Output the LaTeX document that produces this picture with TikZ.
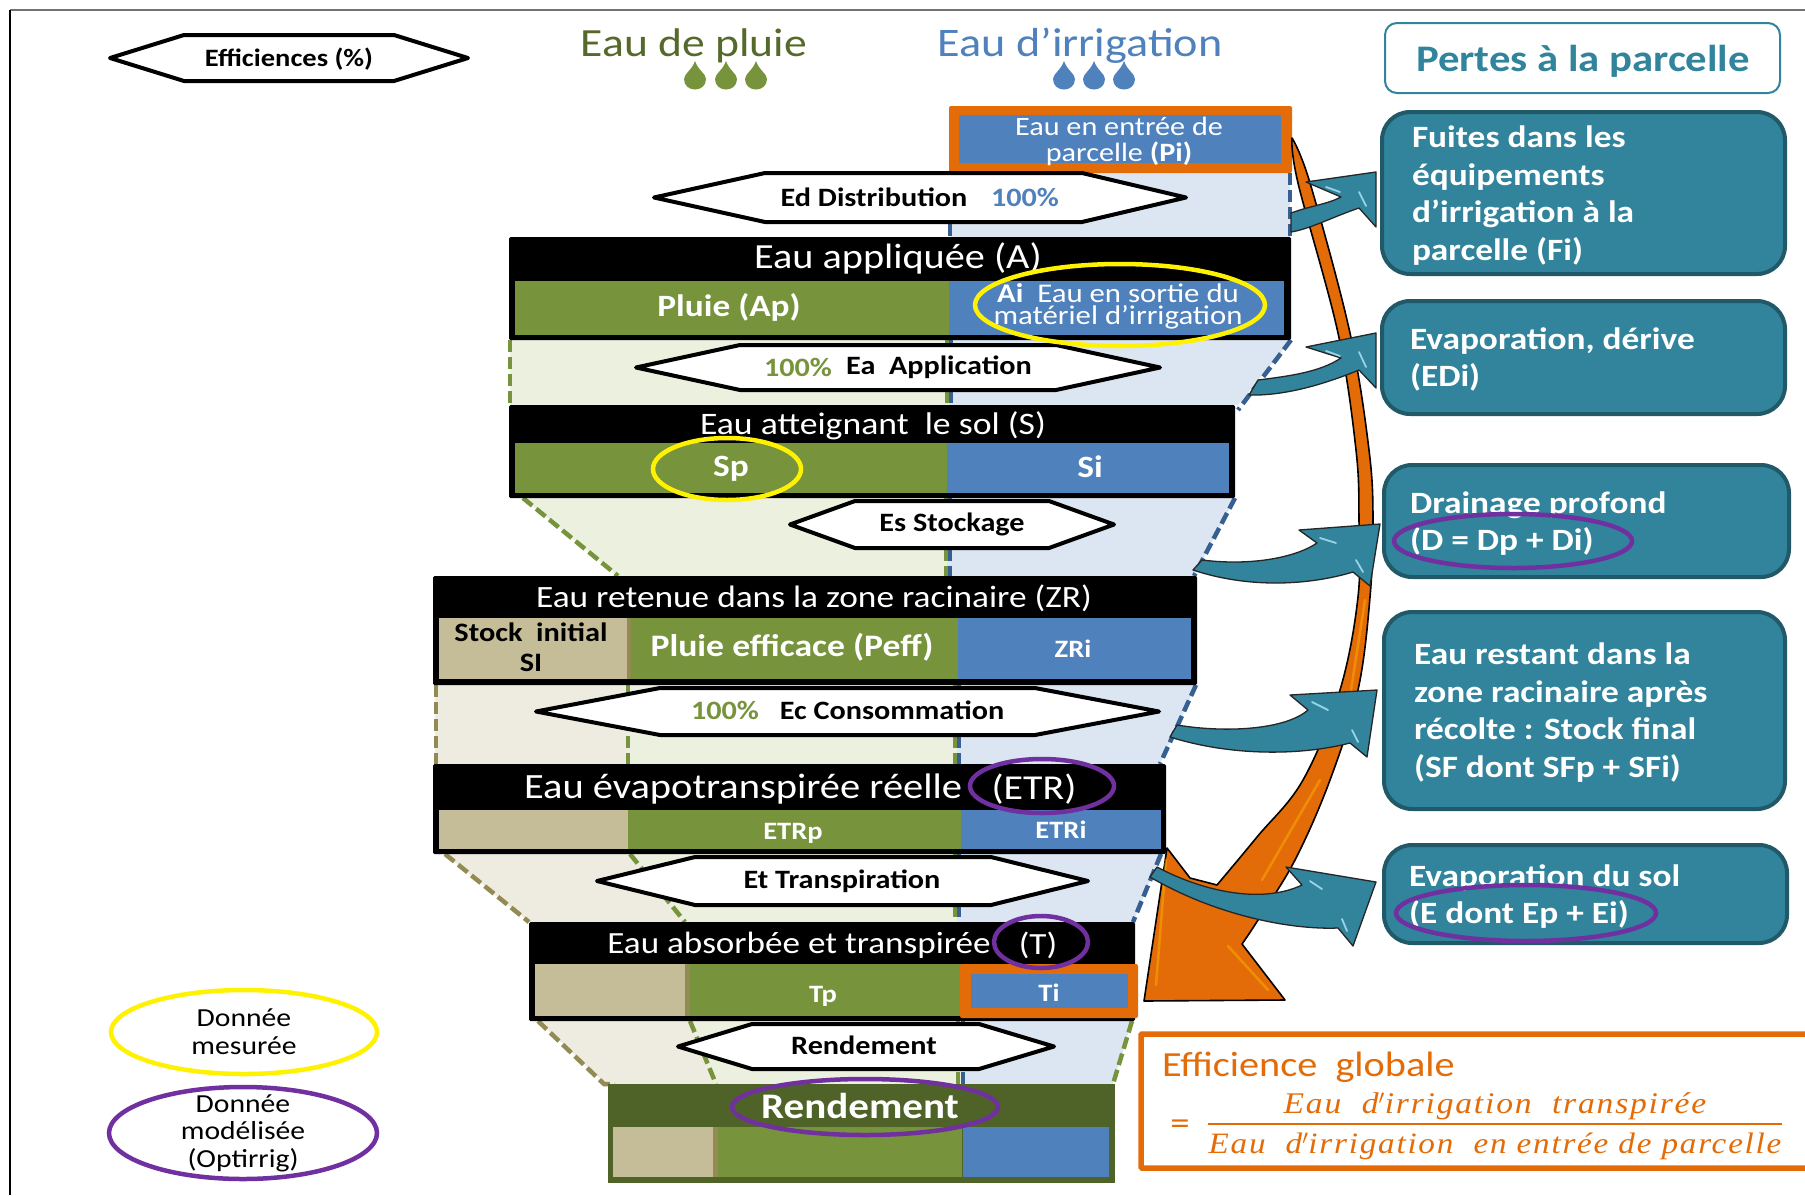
\documentclass[tikz,border=0pt]{standalone}
\usepackage{fontspec}
\setmainfont[FakeStretch=1.14]{Carlito}
\newfontfamily\mathlike[FakeStretch=1.12,LetterSpace=6]{Liberation Serif}
\usetikzlibrary{shapes.geometric}
\definecolor{ored}{HTML}{E36C09}
\definecolor{teal1}{HTML}{31849B}
\definecolor{teal2}{HTML}{215968}
\definecolor{bleu}{HTML}{4F81BD}
\definecolor{bleud}{HTML}{376092}
\definecolor{vert}{HTML}{77933C}
\definecolor{vertd}{HTML}{4F6228}
\definecolor{beige}{HTML}{C4BD97}
\definecolor{beiged}{HTML}{948A54}
\definecolor{lbleu}{HTML}{DCE6F2}
\definecolor{lvert}{HTML}{EBF1DE}
\definecolor{lbeige}{HTML}{EEECE1}
\definecolor{violet1}{HTML}{7030A0}
\newcommand{\fs}[1]{\fontsize{#1}{#1}\selectfont}
\newcommand{\hexa}[7]{\draw[hexline] (#2,{(#6+#7)/2}) -- (#3,#6) -- (#4,#6) -- (#5,{(#6+#7)/2}) -- (#4,#7) -- (#3,#7) -- cycle;}
\newcommand{\goutte}[3]{\fill[#3] (#1,61) .. controls (#1+3,70) and (#1+11,74) .. (#1+11,79) .. controls (#1+11,93) and (#1-11,93) .. (#1-11,79) .. controls (#1-11,74) and (#1-3,70) .. (#1,61) -- cycle;}
\tikzset{
  hexline/.style={draw=black,fill=white,line width=4pt,line join=round},
  txt/.style={inner sep=0pt,outer sep=0pt,text=white,align=center,yshift=-1.5pt},
  dark/.style={inner sep=0pt,outer sep=0pt,text=black,align=center,yshift=-1.5pt},
  loss/.style={inner sep=0pt,outer sep=0pt,text=white,align=left,anchor=west,yshift=-1.5pt,font=\bfseries\fontsize{31}{37.6}\selectfont},
  lossbox/.style={draw=teal2,fill=teal1,line width=4pt,rounded corners=28pt},
  yel/.style={draw=yellow,line width=4.5pt},
  vio/.style={draw=violet1,line width=4.5pt},
  dgreen/.style={draw=vert,line width=4.5pt,dash pattern=on 12pt off 5pt},
  dblue/.style={draw=bleud,line width=4.5pt,dash pattern=on 12pt off 5pt},
  dbeige/.style={draw=beiged,line width=4.5pt,dash pattern=on 12pt off 5pt},
  tealarrow/.style={draw=black!85,fill=teal1,line width=1.3pt,line join=round},
  glint/.style={draw=cyan!30,line width=1.8pt,line cap=round,opacity=.8},
  oglint/.style={draw=orange!55!yellow,line width=2.5pt,line cap=round,opacity=.45},
}
\begin{document}
\begin{tikzpicture}[x=1pt,y=-1pt]
\useasboundingbox (0,0) rectangle (1805,1195);
\fill[white] (0,0) rectangle (1805,1195);
% frame
\draw[draw=black!55,line width=1.6pt] (10,10) -- (1805,10);
\draw[draw=black,line width=1.4pt] (10,10) -- (10,1195);

% titles and drops
\node[dark,text=vertd!85!vert,font=\fs{40}] (tpluie) at (694,44) {Eau de pluie};
\node[dark,text=bleu,font=\fs{40.5}] (tirr) at (1080,44) {Eau d’irrigation};
\goutte{695}{}{vert}\goutte{726}{}{vert}\goutte{756}{}{vert}
\goutte{1064}{}{bleu}\goutte{1094}{}{bleu}\goutte{1124}{}{bleu}

% efficiences legend
\hexa{}{110}{184}{394}{468}{35}{81}
\node[dark,font=\bfseries\fs{25}] (teff) at (289,58) {Efficiences (\%)};

% pertes panel
\draw[draw=teal1,fill=white,line width=2pt,rounded corners=12pt] (1385,23) rectangle (1780,93);
\node[dark,text=teal1,font=\bfseries\fs{37.5}] (tpertes) at (1583,60) {Pertes à la parcelle};
\draw[lossbox] (1382,112) rectangle (1785,274);
\node[loss] (l1) at (1412,194) {Fuites dans les\\équipements\\d’irrigation à la\\parcelle (Fi)};
\draw[lossbox] (1382,301) rectangle (1785,414);
\node[loss] (l2) at (1410,358) {Evaporation, dérive\\(EDi)};
\draw[lossbox] (1384,465) rectangle (1789,577);
\node[loss] (l3) at (1410,522) {Drainage profond\\(D = Dp + Di)};
\draw[lossbox] (1384,612) rectangle (1785,809);
\node[loss] (l4) at (1414,711) {Eau restant dans la\\zone racinaire après\\récolte : Stock final\\(SF dont SFp + SFi)};
\draw[lossbox] (1384,845) rectangle (1787,943);
\node[loss] (l5) at (1409,895) {Evaporation du sol\\(E dont Ep + Ei)};
\draw[vio] (1513,541) ellipse [x radius=119,y radius=27];
\draw[vio] (1526,913) ellipse [x radius=130,y radius=28];

% funnel fills
\fill[lbleu] (950,173) rectangle (1290,237);
\fill[lvert] (510,340) rectangle (949,405);
\fill[lbleu] (949,340) -- (1291,340) -- (1238,405) -- (949,405) -- cycle;
\fill[lvert] (523,498) -- (947,498) -- (947,576) -- (618,576) -- cycle;
\fill[lbleu] (947,498) -- (1235,498) -- (1194,576) -- (947,576) -- cycle;
\fill[lbeige] (435,685) rectangle (628,764);
\fill[lvert] (628,685) rectangle (957,764);
\fill[lbleu] (957,685) -- (1196,685) -- (1160,764) -- (957,764) -- cycle;
\fill[lbeige] (445,854) -- (630,854) -- (685,922) -- (529,922) -- cycle;
\fill[lvert] (630,854) -- (957,854) -- (957,922) -- (685,922) -- cycle;
\fill[lbleu] (957,854) -- (1161,854) -- (1133,922) -- (957,922) -- cycle;
\fill[lbeige] (538,1021) -- (690,1021) -- (716,1084) -- (606,1084) -- cycle;
\fill[lvert] (690,1021) -- (961,1021) -- (961,1084) -- (716,1084) -- cycle;
\fill[lbleu] (961,1021) -- (1132,1021) -- (1113,1084) -- (961,1084) -- cycle;

% funnel dashes
\draw[dblue] (950,173) -- (950,237);
\draw[dblue] (1290,173) -- (1290,237);
\draw[dgreen] (510,340) -- (510,405);
\draw[dgreen] (947,340) -- (947,405);
\draw[dblue] (951,340) -- (951,405);
\draw[dblue] (1291,340) -- (1238,410);
\draw[dgreen] (523,498) -- (618,576);
\draw[dgreen] (946,498) -- (946,576);
\draw[dblue] (950,498) -- (950,576);
\draw[dblue] (1235,498) -- (1194,576);
\draw[dbeige] (436,685) -- (436,764);
\draw[dgreen] (628,685) -- (628,764);
\draw[dgreen] (955,685) -- (955,764);
\draw[dblue] (959,685) -- (959,764);
\draw[dblue] (1196,685) -- (1160,764);
\draw[dbeige] (445,854) -- (529,922);
\draw[dgreen] (630,854) -- (685,922);
\draw[dgreen] (955,854) -- (955,922);
\draw[dblue] (959,854) -- (959,922);
\draw[dblue] (1161,854) -- (1133,922);
\draw[dbeige] (538,1021) -- (604,1084) -- (615,1084);
\draw[dgreen] (690,1021) -- (716,1084);
\draw[dgreen] (958,1021) -- (958,1084);
\draw[dblue] (963,1021) -- (963,1084);
\draw[dgreen] (1132,1021) -- (1113,1084);

% Pi box
\fill[ored,rounded corners=2pt] (949,106) rectangle (1292,173);
\fill[bleu] (959,115) rectangle (1281,163);
\node[txt,font=\fontsize{26.5}{26.5}\selectfont] (tpi) at (1119,140) {Eau en entrée de\\[0pt]parcelle \textbf{(Pi)}};

% hexagons
\hexa{}{654}{765}{1082}{1186}{173}{222}
\node[dark,font=\bfseries\fs{26.5}] (ted) at (874,195.5) {Ed Distribution};
\node[dark,text=bleu,font=\bfseries\fs{26.5}] (ted2) at (1025,195.5) {100\%};
\hexa{}{636}{740}{1056}{1160}{345}{390}
\node[dark,text=vert,font=\bfseries\fs{26.5}] (tea1) at (798,366) {100\%};
\node[dark,font=\bfseries\fs{26.5}] (tea2) at (939,366) {Ea\ \ Application};
\hexa{}{790}{855}{1049}{1114}{501}{548}
\node[dark,font=\bfseries\fs{26.5}] (tes) at (952,523) {Es Stockage};
\hexa{}{536}{660}{1035}{1159}{688}{735}
\node[dark,text=vert,font=\bfseries\fs{26.5}] (tec1) at (725,709) {100\%};
\node[dark,font=\bfseries\fs{26.5}] (tec2) at (892,709) {Ec Consommation};
\hexa{}{597}{695}{991}{1088}{857}{905}
\node[dark,font=\bfseries\fs{26.5}] (tet) at (842,880) {Et Transpiration};
\hexa{}{678}{752}{979}{1054}{1024}{1069}
\node[dark,font=\bfseries\fs{26.5}] (trd) at (864,1043.5) {Rendement};

% bar A
\fill[black,rounded corners=1.5pt] (509,237) rectangle (1291,340);
\fill[vert] (515,281) rectangle (949,335);
\fill[bleu] (949,281) rectangle (1284,335);
\node[txt,font=\fs{35.3}] (ta) at (898,257) {Eau appliquée (A)};
\node[txt,font=\bfseries\fs{31}] (tap) at (729,306) {Pluie (Ap)};
\node[txt,font=\fontsize{27}{22}\selectfont] (tai) at (1118,305) {\textbf{Ai}\ \ Eau en sortie du\\matériel d’irrigation};
\draw[yel] (1120,305) ellipse [x radius=145,y radius=41];

% bar S
\fill[black,rounded corners=1.5pt] (509,405) rectangle (1235,498);
\fill[vert] (515,443) rectangle (947,493);
\fill[bleu] (947,443) rectangle (1229,493);
\node[txt,font=\fs{31.3}] (ts) at (873,424) {Eau atteignant\ \ le sol (S)};
\node[txt,font=\bfseries\fs{31}] (tsp) at (731,467) {Sp};
\node[txt,font=\bfseries\fs{31}] (tsi) at (1090,465) {Si};
\draw[yel] (727,469) ellipse [x radius=74,y radius=31];

% bar ZR
\fill[black,rounded corners=1.5pt] (433,576) rectangle (1197,685);
\fill[beige] (439,618) rectangle (627,679);
\fill[beiged] (627,618) rectangle (631,679);
\fill[vert] (631,618) rectangle (958,679);
\fill[bleu] (958,618) rectangle (1191,679);
\node[txt,font=\fs{31}] (tzr) at (814,597) {Eau retenue dans la zone racinaire (ZR)};
\node[dark,font=\bfseries\fontsize{26.6}{30}\selectfont] (tsi2) at (531,646) {Stock\ \ initial\\SI};
\node[txt,font=\bfseries\fs{31.3}] (tpe) at (792,646) {Pluie efficace (Peff)};
\node[txt,font=\bfseries\fs{25}] (tzri) at (1073,647.5) {ZRi};

% bar ETR
\fill[black,rounded corners=1.5pt] (433,764) rectangle (1166,854);
\fill[beige] (439,810) rectangle (628,849);
\fill[vert] (628,810) rectangle (961,849);
\fill[bleu] (961,810) rectangle (1161,849);
\node[txt,font=\fs{35.5}] (tetr) at (743,788) {Eau évapotranspirée réelle};
\node[txt,font=\fs{35}] (tetr2) at (1034,788) {(ETR)};
\node[txt,font=\bfseries\fs{25}] (tetrp) at (793,832) {ETRp};
\node[txt,font=\bfseries\fs{25}] (tetri) at (1061,828) {ETRi};
\draw[vio] (1042,786) ellipse [x radius=72,y radius=27];

% bar T
\fill[black,rounded corners=1.5pt] (529,922) rectangle (1135,1021);
\fill[beige] (535,964) rectangle (685,1016);
\fill[beiged] (685,964) rectangle (690,1016);
\fill[vert] (690,964) rectangle (961,1016);
\fill[ored,rounded corners=2pt] (960,964) rectangle (1138,1018);
\fill[bleu] (971,974) rectangle (1128,1008);
\node[txt,font=\fs{30.8}] (tt) at (799,944) {Eau absorbée et transpirée};
\node[txt,font=\fs{30.8}] (tt2) at (1038,944) {(T)};
\node[txt,font=\bfseries\fs{25}] (ttp) at (823,995) {Tp};
\node[txt,font=\bfseries\fs{25}] (tti) at (1049,991) {Ti};
\draw[vio] (1041,942) ellipse [x radius=47,y radius=26];

% bar Rendement
\fill[vertd] (608,1084) rectangle (1115,1183);
\fill[beige] (613,1127) rectangle (713,1177);
\fill[beiged] (713,1127) rectangle (718,1177);
\fill[vert] (718,1127) rectangle (962,1177);
\fill[bleu] (963,1127) rectangle (1109,1177);
\draw[vio] (865,1107) ellipse [x radius=133,y radius=28];
\node[txt,font=\bfseries\fs{36}] (trend) at (860,1104.5) {Rendement};

% big orange arrow
\draw[draw=black,fill=ored,line width=1.6pt,line join=round]
  plot[smooth,tension=.6] coordinates {(1292,138) (1310,183) (1350,333) (1369,450) (1373,520) (1370,597) (1358,690) (1330,780) (1295,860) (1258,920) (1242,944)}
  -- (1285,1000) -- (1144,1001) -- (1167,848) -- (1190,878) -- (1217,885)
  -- plot[smooth,tension=.6] coordinates {(1217,885) (1257,837) (1303,780) (1340,690) (1358,597) (1359,520) (1356,450) (1338,333) (1298,183) (1292,138)} -- cycle;
\draw[oglint] (1166,860) -- (1156,985);
\draw[oglint] (1228,946) -- (1268,990);
\draw[oglint] (1262,880) -- (1320,780);
\draw[oglint] (1351,690) -- (1365,600);

% teal arrows
\draw[tealarrow] (1291,213) .. controls (1310,206) and (1328,204) .. (1341,197)
  -- (1306,182) -- (1376,172) -- (1376,227) -- (1359,208)
  .. controls (1335,216) and (1310,229) .. (1291,232) -- cycle;
\draw[glint] (1326,187) -- (1340,192);
\draw[glint] (1359,192) -- (1366,206);
\draw[tealarrow] (1258,380) .. controls (1290,376) and (1320,372) .. (1341,358)
  -- (1306,347) -- (1376,333) -- (1376,388) -- (1359,370)
  .. controls (1325,384) and (1285,396) .. (1249,395) -- cycle;
\draw[glint] (1326,351) -- (1340,356);
\draw[glint] (1359,352) -- (1366,367);
\draw[tealarrow] (1202,560) .. controls (1250,566) and (1295,558) .. (1317,543)
  -- (1299,530) -- (1380,524) -- (1370,586) -- (1353,572)
  .. controls (1310,585) and (1250,589) .. (1193,570) -- cycle;
\draw[glint] (1320,538) -- (1336,543);
\draw[glint] (1356,560) -- (1363,572);
\draw[tealarrow] (1177,725) .. controls (1225,733) and (1285,730) .. (1308,710)
  -- (1290,695) -- (1377,690) -- (1367,757) -- (1350,743)
  .. controls (1300,756) and (1230,756) .. (1170,737) -- cycle;
\draw[glint] (1312,702) -- (1328,710);
\draw[glint] (1352,730) -- (1358,742);
\draw[tealarrow] (1157,867) .. controls (1200,890) and (1260,905) .. (1302,885)
  -- (1286,867) -- (1376,882) -- (1353,946) -- (1338,928)
  .. controls (1290,930) and (1215,915) .. (1150,877) -- cycle;
\draw[glint] (1310,881) -- (1322,889);
\draw[glint] (1342,919) -- (1347,931);

% global efficiency
\draw[draw=ored,fill=white,line width=5.5pt,rounded corners=1pt] (1141,1034) rectangle (1808,1168);
\node[dark,text=ored,font=\fs{35.3},anchor=west] (tglob) at (1162,1066) {Efficience\ \ globale};
\node[dark,text=ored,font=\fs{34}] (teq) at (1180,1126) {=};
\node[dark,text=ored,font=\mathlike\itshape\fs{30}] (tnum) at (1495,1105) {Eau\ \ d$'$irrigation\ \ transpirée};
\node[dark,text=ored,font=\mathlike\itshape\fs{29.6}] (tden) at (1495,1145) {Eau\ \ d$'$irrigation\ \ en entrée de parcelle};
\draw[draw=ored,line width=1.6pt] (1208,1124) -- (1782,1124);

% legend
\draw[yel] (244,1032) ellipse [x radius=133,y radius=42];
\node[dark,font=\fontsize{26}{27.5}\selectfont] (tl1) at (244,1030) {Donnée\\mesurée};
\draw[vio] (243,1133) ellipse [x radius=134,y radius=46];
\node[dark,font=\fontsize{26}{27.5}\selectfont] (tl2) at (243,1131.5) {Donnée\\modélisée\\(Optirrig)};
\end{tikzpicture}
\end{document}
